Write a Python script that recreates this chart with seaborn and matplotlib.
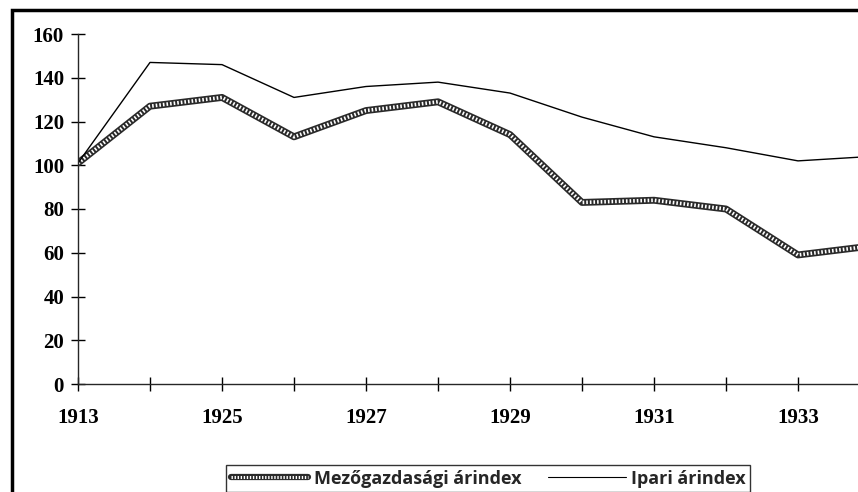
import pandas as pd
import numpy as np
import seaborn as sns
import matplotlib.pyplot as plt
from matplotlib.lines import Line2D
from matplotlib.patches import Rectangle

evek = ['1913', '1924', '1925', '1926', '1927', '1928', '1929', '1930', '1931', '1932', '1933', '1934']
mezogazdasagi = [101, 127, 131, 113, 125, 129, 114, 83, 84, 80, 59, 63]
ipari = [101, 147, 146, 131, 136, 138, 133, 122, 113, 108, 102, 104]
cimkek = ['1913', '', '1925', '', '1927', '', '1929', '', '1931', '', '1933', '']

df = pd.DataFrame({'ev': evek, 'mezo': mezogazdasagi, 'ipari': ipari})

sns.set_style("ticks")
plt.rcParams['font.family'] = ['Liberation Serif', 'DejaVu Serif']
plt.rcParams['font.weight'] = 'bold'

fig = plt.figure(figsize=(8.58, 4.92), dpi=100)
ax = fig.add_axes([78 / 858, 1 - 384 / 492, 792 / 858, 350 / 492])

# vastag "mintazott" vonal: fekete alap + feher pontozas
minta = (0, (0.45, 0.55))
sns.lineplot(x='ev', y='mezo', data=df, ax=ax, color='#2a2a2a', linewidth=5, sort=False)
sns.lineplot(x='ev', y='mezo', data=df, ax=ax, color='white', linewidth=2.6,
             linestyle=minta, sort=False)
sns.lineplot(x='ev', y='ipari', data=df, ax=ax, color='black', linewidth=1, sort=False)

ax.set_xlim(0, 11)
ax.set_ylim(0, 160)
ax.set_yticks(range(0, 161, 20))
ax.set_xticks(range(len(evek)))
ax.set_xticklabels(cimkek)
ax.set_xlabel('')
ax.set_ylabel('')
ax.spines['top'].set_visible(False)
ax.spines['right'].set_visible(False)
ax.spines['left'].set_linewidth(1)
ax.spines['bottom'].set_linewidth(1)
ax.tick_params(axis='both', direction='inout', length=10, width=1, colors='black',
               labelsize=15)
ax.tick_params(axis='x', pad=12)
ax.tick_params(axis='y', pad=5)

# jelmagyarazat
h1 = Line2D([], [], color='#2a2a2a', linewidth=4.5)
h1b = Line2D([], [], color='white', linewidth=2.2, linestyle=minta)
h2 = Line2D([], [], color='black', linewidth=0.8)
leg = fig.legend([(h1, h1b), h2], ['Mezőgazdasági árindex', 'Ipari árindex'],
                 ncol=2, loc='upper left', bbox_to_anchor=(217 / 858, 1 - 456 / 492),
                 frameon=True, fancybox=False, edgecolor='black', handlelength=4.3,
                 columnspacing=1.5, borderpad=0.25, handletextpad=0.3,
                 prop={'family': ['Open Sans', 'DejaVu Sans'], 'weight': 'bold', 'size': 13})
leg.get_frame().set_linewidth(1)

# keret a kep korul
fig.add_artist(Rectangle((12 / 858, -0.1), 1.2, 1 - 10 / 492 + 0.1, transform=fig.transFigure,
                         fill=False, edgecolor='black', linewidth=2.5))

fig.savefig('out.png', dpi=100)
